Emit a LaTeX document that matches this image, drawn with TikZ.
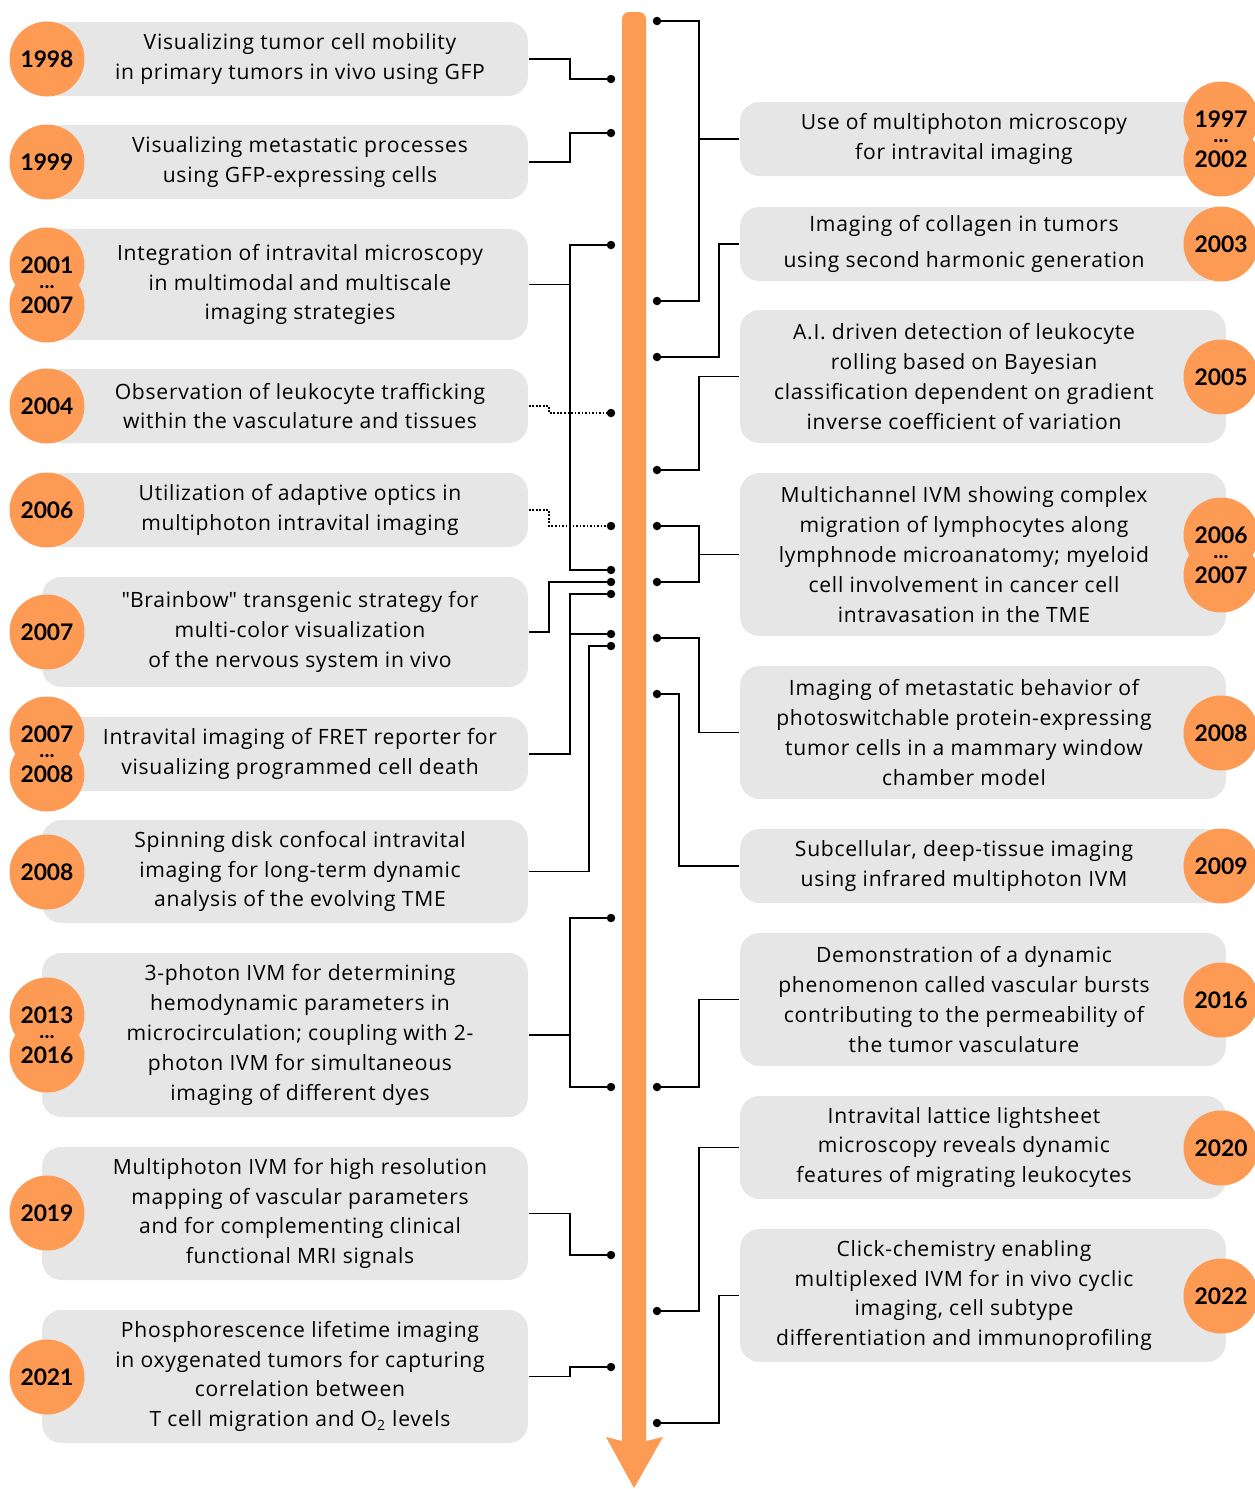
\documentclass[tikz,border=0pt]{standalone}
\usepackage{fontspec}
\setmainfont{Open Sans}[LetterSpace=3.5]
\newfontfamily\yearfont{Lato}
\usetikzlibrary{calc}
\definecolor{tlorange}{RGB}{253,154,84}
\definecolor{boxgray}{RGB}{230,230,230}

\begin{document}
\begin{tikzpicture}[x=0.02cm, y=-0.02cm, line width=1pt,
  box/.style={fill=boxgray, rounded corners=11pt, minimum width=9.72cm, inner sep=0pt},
  txt/.style={align=center, font=\fontsize{12}{17}\selectfont, inner sep=0pt},
  yr/.style={circle, fill=tlorange, minimum size=1.5cm, inner sep=0pt, font=\yearfont\fontsize{13}{15}\selectfont\bfseries},
  yrtxt/.style={inner sep=0pt, font=\yearfont\fontsize{13}{15}\selectfont\bfseries},
  ell/.style={inner sep=0pt, anchor=base, font=\yearfont\fontsize{12}{12}\selectfont\bfseries},
  dot/.style={circle, fill=black, minimum size=0.17cm, inner sep=0pt}]
\useasboundingbox (0,0) rectangle (1255,1489);

% time line
\fill[tlorange] (622,1441) {[rounded corners=4pt] -- (622,12) -- (646,12)} -- (646,1441)
  -- (663,1437) -- (634,1488) -- (606,1437) -- cycle;

% elbow columns
\coordinate (xa) at (570,0);
\coordinate (xb) at (549,0);
\coordinate (xc) at (589,0);
\coordinate (xr) at (699,0);
\coordinate (xs) at (719,0);
\coordinate (xt) at (679,0);

% left boxes
\node[box, minimum height=1.48cm] (lb1) at (285,59) {};
\node[box, minimum height=1.48cm] (lb2) at (285,162) {};
\node[box, minimum height=2.22cm] (lb3) at (285,284.5) {};
\node[box, minimum height=1.48cm] (lb4) at (285,406) {};
\node[box, minimum height=1.48cm] (lb5) at (285,510) {};
\node[box, minimum height=2.2cm] (lb6) at (285,632) {};
\node[box, minimum height=1.48cm] (lb7) at (285,754) {};
\node[box, minimum height=2.06cm] (lb8) at (285,871.5) {};
\node[box, minimum height=3.28cm] (lb9) at (285,1035) {};
\node[box, minimum height=2.66cm] (lb10) at (285,1213.5) {};
\node[box, minimum height=2.66cm] (lb11) at (285,1376.5) {};

\node[txt] (lt1) at ([xshift=0.3cm]lb1.center) {Visualizing tumor cell mobility\\in primary tumors in vivo using GFP};
\node[txt] (lt2) at ([xshift=0.3cm]lb2.center) {Visualizing metastatic processes\\using GFP-expressing cells};
\node[txt] (lt3) at ([xshift=0.3cm]lb3.center) {Integration of intravital microscopy\\in multimodal and multiscale\\imaging strategies};
\node[txt] (lt4) at ([xshift=0.3cm]lb4.center) {Observation of leukocyte trafficking\\within the vasculature and tissues};
\node[txt] (lt5) at ([xshift=0.3cm]lb5.center) {Utilization of adaptive optics in\\multiphoton intravital imaging};
\node[txt] (lt6) at ([xshift=0.3cm]lb6.center) {\textquotedbl Brainbow\textquotedbl{} transgenic strategy for\\multi-color visualization\\of the nervous system in vivo};
\node[txt] (lt7) at ([xshift=0.3cm]lb7.center) {Intravital imaging of FRET reporter for\\visualizing programmed cell death};
\node[txt] (lt8) at ([xshift=0.3cm]lb8.center) {Spinning disk confocal intravital\\imaging for long-term dynamic\\analysis of the evolving TME};
\node[txt] (lt9) at ([xshift=0.3cm]lb9.center) {3-photon IVM for determining\\hemodynamic parameters in\\microcirculation; coupling with 2-\\photon IVM for simultaneous\\imaging of different dyes};
\node[txt] (lt10) at ([xshift=0.3cm]lb10.center) {Multiphoton IVM for high resolution\\mapping of vascular parameters\\and for complementing clinical\\functional MRI signals};
\node[txt] (lt11) at ([xshift=0.3cm]lb11.center) {Phosphorescence lifetime imaging\\in oxygenated tumors for capturing\\correlation between\\T cell migration and O\textsubscript{2} levels};

% right boxes
\node[box, minimum height=1.48cm] (rb1) at (983,139) {};
\node[box, minimum height=1.48cm] (rb2) at (983,244) {};
\node[box, minimum height=2.66cm] (rb3) at (983,376.5) {};
\node[box, minimum height=3.26cm] (rb4) at (983,554.5) {};
\node[box, minimum height=2.66cm] (rb5) at (983,732.5) {};
\node[box, minimum height=1.48cm] (rb6) at (983,866) {};
\node[box, minimum height=2.66cm] (rb7) at (983,999.5) {};
\node[box, minimum height=2.06cm] (rb8) at (983,1147.5) {};
\node[box, minimum height=2.66cm] (rb9) at (983,1295.5) {};

\node[txt] (rt1) at ([xshift=-0.38cm]rb1.center) {Use of multiphoton microscopy\\for intravital imaging};
\node[txt] (rt2) at ([xshift=-0.38cm]rb2.center) {Imaging of collagen in tumors\\[3.4pt]using second harmonic generation};
\node[txt] (rt3) at ([xshift=-0.38cm]rb3.center) {A.I. driven detection of leukocyte\\rolling based on Bayesian\\classification dependent on gradient\\inverse coefficient of variation};
\node[txt] (rt4) at ([xshift=-0.38cm]rb4.center) {Multichannel IVM showing complex\\migration of lymphocytes along\\lymphnode microanatomy; myeloid\\cell involvement in cancer cell\\intravasation in the TME};
\node[txt] (rt5) at ([xshift=-0.38cm]rb5.center) {Imaging of metastatic behavior of\\photoswitchable protein-expressing\\tumor cells in a mammary window\\chamber model};
\node[txt] (rt6) at ([xshift=-0.38cm]rb6.center) {Subcellular, deep-tissue imaging\\using infrared multiphoton IVM};
\node[txt] (rt7) at ([xshift=-0.38cm]rb7.center) {Demonstration of a dynamic\\phenomenon called vascular bursts\\contributing to the permeability of\\the tumor vasculature};
\node[txt] (rt8) at ([xshift=-0.38cm]rb8.center) {Intravital lattice lightsheet\\microscopy reveals dynamic\\features of migrating leukocytes};
\node[txt] (rt9) at ([xshift=-0.38cm]rb9.center) {Click-chemistry enabling\\multiplexed IVM for in vivo cyclic\\imaging, cell subtype\\differentiation and immunoprofiling};

% left years
\node[yr] (ly1) at (47,59) {1998};
\node[yr] (ly2) at (47,162) {1999};
\node[yr] (ly3a) at (47,265) {};
\node[yr] (ly3b) at (47,305) {};
\node[yrtxt] (ly3t) at (ly3a) {2001};
\node[yrtxt] (ly3u) at (ly3b) {2007};
\node[ell] (ly3e) at (47,288) {...};
\node[yr] (ly4) at (47,406) {2004};
\node[yr] (ly5) at (47,510) {2006};
\node[yr] (ly6) at (47,632) {2007};
\node[yr] (ly7a) at (47,734) {};
\node[yr] (ly7b) at (47,774) {};
\node[yrtxt] (ly7t) at (ly7a) {2007};
\node[yrtxt] (ly7u) at (ly7b) {2008};
\node[ell] (ly7e) at (47,757) {...};
\node[yr] (ly8) at (47,872) {2008};
\node[yr] (ly9a) at (47,1015) {};
\node[yr] (ly9b) at (47,1055) {};
\node[yrtxt] (ly9t) at (ly9a) {2013};
\node[yrtxt] (ly9u) at (ly9b) {2016};
\node[ell] (ly9e) at (47,1038) {...};
\node[yr] (ly10) at (47,1213) {2019};
\node[yr] (ly11) at (47,1377) {2021};

% right years
\node[yr] (ry1a) at (1221,119) {};
\node[yr] (ry1b) at (1221,159) {};
\node[yrtxt] (ry1t) at (ry1a) {1997};
\node[yrtxt] (ry1u) at (ry1b) {2002};
\node[ell] (ry1e) at (1221,142) {...};
\node[yr] (ry2) at (1221,244) {2003};
\node[yr] (ry3) at (1221,377) {2005};
\node[yr] (ry4a) at (1221,535) {};
\node[yr] (ry4b) at (1221,575) {};
\node[yrtxt] (ry4t) at (ry4a) {2006};
\node[yrtxt] (ry4u) at (ry4b) {2007};
\node[ell] (ry4e) at (1221,558) {...};
\node[yr] (ry5) at (1221,733) {2008};
\node[yr] (ry6) at (1221,866) {2009};
\node[yr] (ry7) at (1221,1000) {2016};
\node[yr] (ry8) at (1221,1148) {2020};
\node[yr] (ry9) at (1221,1296) {2022};

% dots on the time line
\node[dot] (dl1) at (611,79) {};
\node[dot] (dl2) at (611,133) {};
\node[dot] (dl3a) at (611,245) {};
\node[dot] (dl3b) at (611,570) {};
\node[dot] (dl4) at (611,413) {};
\node[dot] (dl5) at (611,526) {};
\node[dot] (dl6) at (611,582) {};
\node[dot] (dl7a) at (611,594) {};
\node[dot] (dl7b) at (611,634) {};
\node[dot] (dl8) at (611,646) {};
\node[dot] (dl9a) at (611,918) {};
\node[dot] (dl9b) at (611,1087) {};
\node[dot] (dl10) at (611,1255) {};
\node[dot] (dl11) at (611,1367) {};
\node[dot] (dr1a) at (657,21) {};
\node[dot] (dr1b) at (657,301) {};
\node[dot] (dr2) at (657,357) {};
\node[dot] (dr3) at (657,470) {};
\node[dot] (dr4a) at (657,526) {};
\node[dot] (dr4b) at (657,582) {};
\node[dot] (dr5) at (657,638) {};
\node[dot] (dr6) at (657,694) {};
\node[dot] (dr7) at (657,1087) {};
\node[dot] (dr8) at (657,1311) {};
\node[dot] (dr9) at (657,1423) {};

% left connectors
\draw (lb1.east) -- (lb1.east -| xa) |- (dl1.center);
\draw (lb2.east) -- (lb2.east -| xa) |- (dl2.center);
\draw (lb3.east) -- (lb3.east -| xa);
\draw (dl3a.center) -| (xa |- dl3b) -- (dl3b.center);
\draw[densely dotted] (lb4.east) -- (lb4.east -| xb) |- (dl4.center);
\draw[densely dotted] (lb5.east) -- (lb5.east -| xb) |- (dl5.center);
\draw (lb6.east) -- (lb6.east -| xb) |- (dl6.center);
\draw (lb7.east) -- (lb7.east -| xa) |- (dl7a.center);
\draw (dl7b.center) -- (xa |- dl7b);
\draw (lb8.east) -- (lb8.east -| xc) |- (dl8.center);
\draw (lb9.east) -- (lb9.east -| xa);
\draw (dl9a.center) -| (xa |- dl9b) -- (dl9b.center);
\draw (lb10.east) -- (lb10.east -| xa) |- (dl10.center);
\draw (lb11.east) -- (lb11.east -| xa) |- (dl11.center);

% right connectors
\draw (rb1.west) -- (rb1.west -| xr);
\draw (dr1a.center) -| (xr |- dr1b) -- (dr1b.center);
\draw (rb2.west) -- (rb2.west -| xs) |- (dr2.center);
\draw (rb3.west) -- (rb3.west -| xr) |- (dr3.center);
\draw (rb4.west) -- (rb4.west -| xr);
\draw (dr4a.center) -| (xr |- dr4b) -- (dr4b.center);
\draw (rb5.west) -- (rb5.west -| xr) |- (dr5.center);
\draw (rb6.west) -- (rb6.west -| xt) |- (dr6.center);
\draw (rb7.west) -- (rb7.west -| xr) |- (dr7.center);
\draw (rb8.west) -- (rb8.west -| xr) |- (dr8.center);
\draw (rb9.west) -- (rb9.west -| xs) |- (dr9.center);
\end{tikzpicture}
\end{document}
